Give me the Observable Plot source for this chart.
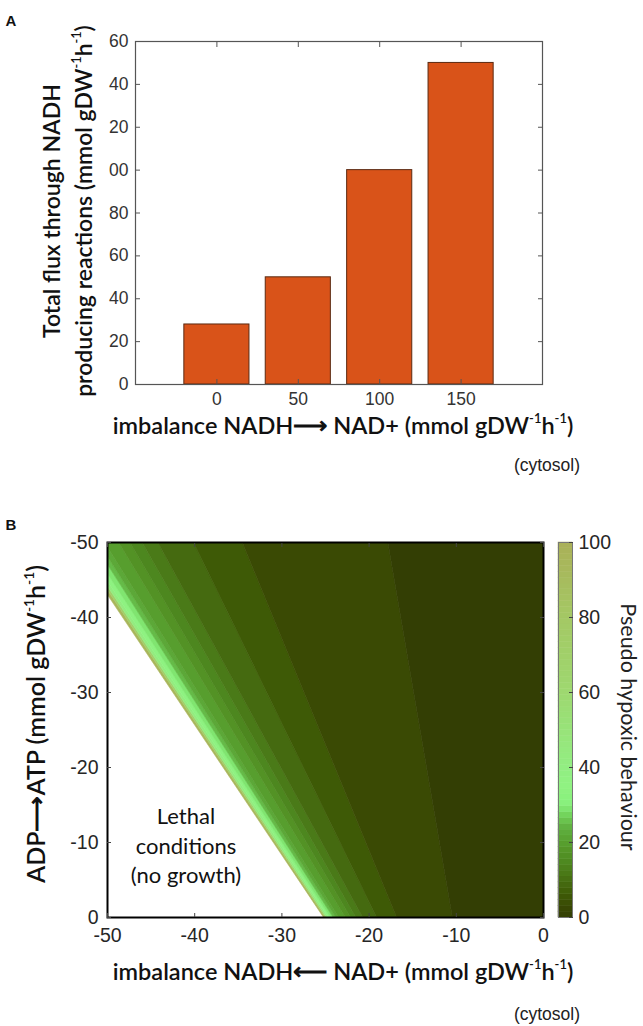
<!DOCTYPE html>
<html><head><meta charset="utf-8">
<script src="https://cdn.jsdelivr.net/npm/d3@7"></script>
<script src="https://cdn.jsdelivr.net/npm/@observablehq/plot@0.6"></script>
<style>
body{margin:0;background:#fff;}
#wrap{position:relative;width:643px;height:1026px;overflow:hidden;background:#fff;}
#wrap > svg{position:absolute;}
</style></head><body><div id="wrap"></div>
<script>
// ---------- Panel A data ----------
const imbalance = [0, 50, 100, 150];
const nadhFlux = [28, 50, 100, 150];
const fluxTicks = [0, 20, 40, 60, 80, 100, 120, 140, 160];
const fluxTickLabels = ["0", "20", "40", "60", "80", "00", "20", "40", "60"];

// ---------- Panel B data ----------
const bTicks = [-50, -40, -30, -20, -10, 0];
const bTickLabels = ["-50", "-40", "-30", "-20", "-10", "0"];
// band boundaries: x at ATP = -50 (top) and x at ATP = 0 (bottom)
const bandTopX    = [-54.0, -53.6, -53.3, -52.9, -52.3, -51.6, -51.0, -50.3, -48.7, -47.4, -46.0, -44.2, -40.1, -34.5, -17.8, 10];
const bandBottomX = [-25.2, -25.0, -24.85, -24.65, -24.4, -24.1, -23.8, -23.45, -22.7, -22.1, -21.5, -20.7, -19.1, -16.8, -10.4, 10];
const bandValues  = [95, 70, 42, 34, 29, 25, 22, 19.5, 17, 14.5, 12, 9, 6, 3, 0];
const colorStops  = [0, 3, 6, 9, 12, 15, 18, 20, 24, 27, 30, 35, 40, 60, 80, 100];
const colorHexes  = ["#333e04","#3a4a04","#3e5a06","#456a10","#4a7a18","#4e8a20","#559628","#58a030","#60b040","#70d058","#88f07c","#90f282","#92ee82","#9ed870","#a4c864","#aab058"];
const colorbarTicks = [0, 20, 40, 60, 80, 100];

const wrap = d3.select("#wrap");
const tickFont = "'Liberation Sans', Arial, Helvetica, sans-serif";
const labelFont = "Lato, 'Noto Sans', sans-serif";

function place(node, left, top) {
  node.style.left = left + "px"; node.style.top = top + "px";
  wrap.node().appendChild(node);
}
function addLabel(svg, {x, y, rotate = 0, anchor = "middle", parts, size, weight = 600, family = labelFont, color = "#111"}) {
  const t = d3.select(svg).append("text")
    .attr("transform", `translate(${x},${y}) rotate(${rotate})`)
    .attr("text-anchor", anchor).attr("dominant-baseline", "central")
    .attr("font-family", family).attr("font-size", size).attr("font-weight", weight).attr("fill", color);
  const shift = size * 0.3;
  let raised = false;
  parts.forEach(p => {
    const sup = Array.isArray(p);
    const s = t.append("tspan").text(sup ? p[0] : p);
    if (sup) { s.attr("font-size", size * 0.55).attr("dy", raised ? 0 : -shift); raised = true; }
    else { if (raised) s.attr("dy", shift); raised = false; }
  });
  return t;
}

// ---------- Panel A ----------
const barData = imbalance.map((x, i) => ({x, v: nadhFlux[i]}));
const plotA = Plot.plot({
  width: 643, height: 500,
  marginLeft: 135, marginRight: 101, marginTop: 41, marginBottom: 116,
  style: {fontFamily: tickFont, fontSize: "17.5px", color: "#333", background: "transparent", overflow: "visible"},
  x: {domain: [-50, 200], axis: null},
  y: {domain: [0, 160], axis: null},
  marks: [
    Plot.rect(barData, {x1: d => d.x - 20, x2: d => d.x + 20, y1: 0, y2: "v", fill: "#d95319", stroke: "#5b2a12", strokeWidth: 1}),
    Plot.frame({stroke: "#555", strokeWidth: 1.2}),
    Plot.axisX(imbalance, {anchor: "bottom", tickSize: -5, tickPadding: 13, tickFormat: d => String(d), stroke: "#555", fill: "#333", label: null}),
    Plot.axisX(imbalance, {anchor: "top", tickSize: -5, tickFormat: () => "", stroke: "#555", label: null}),
    Plot.axisY(fluxTicks, {anchor: "left", tickSize: -5, tickPadding: 12, tickFormat: d => fluxTickLabels[fluxTicks.indexOf(d)], stroke: "#555", fill: "#333", label: null}),
    Plot.axisY(fluxTicks, {anchor: "right", tickSize: -5, tickFormat: () => "", stroke: "#555", label: null})
  ]
});
place(plotA, 0, 0);
d3.select(plotA).append("text").attr("x", 11).attr("y", 26).attr("font-family", tickFont)
  .attr("font-weight", 700).attr("font-size", 15).attr("fill", "#111").text("A");
addLabel(plotA, {x: 51, y: 211, rotate: -90, parts: ["Total flux through NADH"], size: 23});
addLabel(plotA, {x: 83, y: 211, rotate: -90, parts: ["producing reactions (mmol gDW", ["-1"], "h", ["-1"], ")"], size: 23});
addLabel(plotA, {x: 343, y: 425, parts: ["imbalance NADH\u27F6 NAD+ (mmol gDW", ["-1"], "h", ["-1"], ")"], size: 23.5});
addLabel(plotA, {x: 580, y: 465, anchor: "end", parts: ["(cytosol)"], size: 17.5, weight: 400, family: tickFont, color: "#222"});

// ---------- Panel B ----------
const colorOpts = {type: "linear", domain: colorStops, range: colorHexes, interpolate: "rgb"};
const bandRows = bandValues.flatMap((v, i) => [
  {band: i, y: -50, x1: bandTopX[i], x2: bandTopX[i + 1], v},
  {band: i, y: 0, x1: bandBottomX[i], x2: bandBottomX[i + 1], v}
]);
const bFmt = d => bTickLabels[bTicks.indexOf(d)];
const plotB = Plot.plot({
  width: 643, height: 526,
  marginLeft: 107, marginRight: 100, marginTop: 42, marginBottom: 109,
  style: {fontFamily: tickFont, fontSize: "19.5px", color: "#262626", background: "transparent", overflow: "visible"},
  x: {domain: [-50, 0], axis: null},
  y: {domain: [0, -50], axis: null},
  color: colorOpts,
  marks: [
    Plot.areaX(bandRows, {y: "y", x1: "x1", x2: "x2", z: "band", fill: "v", stroke: "v", strokeWidth: 0.6, clip: true}),
    Plot.text(["Lethal\nconditions\n(no growth)"], {x: -41, y: -9.8, fontFamily: labelFont, fontSize: 22, fontWeight: 400, lineHeight: 1.35, fill: "#111"}),
    Plot.frame({stroke: "#000", strokeWidth: 2}),
    Plot.axisX(bTicks, {anchor: "bottom", tickSize: -4, tickPadding: 15, tickFormat: bFmt, stroke: "#444", fill: "#262626", label: null}),
    Plot.axisX(bTicks, {anchor: "top", tickSize: -4, tickFormat: () => "", stroke: "#444", label: null}),
    Plot.axisY(bTicks, {anchor: "left", tickSize: -4, tickPadding: 13, tickFormat: bFmt, stroke: "#444", fill: "#262626", label: null}),
    Plot.axisY(bTicks, {anchor: "right", tickSize: -4, tickFormat: () => "", stroke: "#444", label: null})
  ]
});
place(plotB, 0, 500);
d3.select(plotB).append("text").attr("x", 11).attr("y", 30).attr("font-family", tickFont)
  .attr("font-weight", 700).attr("font-size", 15).attr("fill", "#111").text("B");
addLabel(plotB, {x: 35, y: 224, rotate: -90, parts: ["ADP\u27F6ATP (mmol gDW", ["-1"], "h", ["-1"], ")"], size: 25});
addLabel(plotB, {x: 343, y: 471, parts: ["imbalance NADH\u27F5 NAD+ (mmol gDW", ["-1"], "h", ["-1"], ")"], size: 23.5});
addLabel(plotB, {x: 580, y: 514, anchor: "end", parts: ["(cytosol)"], size: 17.5, weight: 400, family: tickFont, color: "#222"});

// ---------- Colorbar ----------
const cbN = 64, cbStep = 100 / cbN;
const cbRows = d3.range(cbN).map(i => ({y1: i * cbStep, y2: (i + 1) * cbStep, v: (i + 0.5) * cbStep}));
const plotC = Plot.plot({
  width: 103, height: 526,
  marginLeft: 18, marginRight: 71, marginTop: 42, marginBottom: 109,
  style: {fontFamily: tickFont, fontSize: "19.5px", color: "#262626", background: "transparent", overflow: "visible"},
  x: {domain: [0, 1], axis: null},
  y: {domain: [0, 100], axis: null},
  color: colorOpts,
  marks: [
    Plot.rect(cbRows, {x1: 0, x2: 1, y1: "y1", y2: "y2", fill: "v", stroke: "v", strokeWidth: 0.5}),
    Plot.frame({stroke: "#777"}),
    Plot.axisY(colorbarTicks, {anchor: "right", tickSize: -4, tickPadding: 10, tickFormat: d => String(d), stroke: "#444", fill: "#262626", label: null})
  ]
});
place(plotC, 540, 500);
addLabel(plotC, {x: 89, y: 227, rotate: 90, parts: ["Pseudo hypoxic behaviour"], size: 21.5, weight: 400, color: "#222"});
</script></body></html>
